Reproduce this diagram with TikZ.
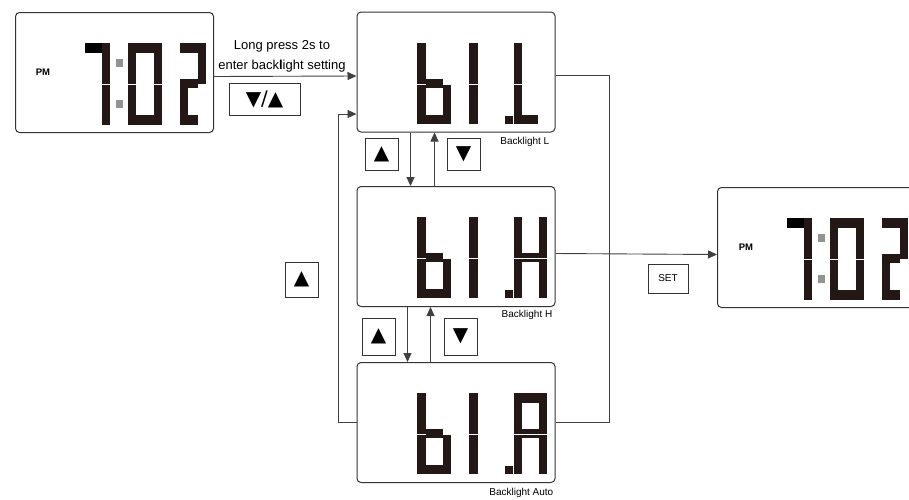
\documentclass[tikz,border=0pt]{standalone}
\usepackage{fontspec}
\setmainfont{Liberation Sans}
\newfontfamily\symfont{DejaVu Sans}
\usetikzlibrary{arrows.meta}

\definecolor{lcdink}{HTML}{231815}
\definecolor{framegray}{HTML}{333333}
\definecolor{linegray}{HTML}{404040}
\definecolor{colongray}{HTML}{939393}

% one lcd segment, corners in px from the panel's top left
\newcommand{\lcdbar}[4]{\fill[lcdink] (#1,#2) rectangle (#3,#4);}

% clock face 7:02
\newcommand{\clockdigits}{%
  \fill[black] (70,31) rectangle (87,41);
  \lcdbar{87}{31}{95}{72}
  \lcdbar{87}{73}{95}{113}
  \fill[colongray] (101,47) rectangle (108,55);
  \fill[colongray] (101,88) rectangle (108,96);
  % 0
  \lcdbar{113}{31}{121}{72}
  \lcdbar{139}{31}{147}{72}
  \lcdbar{121}{31}{139}{41}
  \lcdbar{113}{73}{121}{113}
  \lcdbar{139}{73}{147}{113}
  \lcdbar{121}{103}{139}{113}
  % 2
  \lcdbar{165}{31}{191}{41}
  \lcdbar{183}{41}{191}{72}
  \lcdbar{165}{67}{183}{76}
  \lcdbar{165}{76}{173}{113}
  \lcdbar{173}{103}{183}{113}
}

% "bl." shared by the three backlight panels
\newcommand{\blprefix}{%
  \lcdbar{60}{31}{69}{72}
  \lcdbar{60}{73}{69}{112}
  \lcdbar{69}{67}{86}{76}
  \lcdbar{86}{73}{94}{112}
  \lcdbar{69}{103}{86}{112}
  \lcdbar{112}{31}{121}{72}
  \lcdbar{112}{73}{121}{112}
  \lcdbar{148}{104}{156}{112}
}
\newcommand{\glyphL}{%
  \lcdbar{157}{31}{165}{72}
  \lcdbar{157}{73}{165}{112}
  \lcdbar{165}{103}{181}{112}
}
\newcommand{\glyphH}{%
  \lcdbar{157}{31}{165}{72}
  \lcdbar{157}{73}{165}{112}
  \lcdbar{182}{31}{190}{72}
  \lcdbar{182}{73}{190}{112}
  \lcdbar{165}{67}{182}{72}
  \lcdbar{165}{73}{182}{76}
}
\newcommand{\glyphA}{%
  \glyphH
  \lcdbar{165}{31}{182}{41}
}

\begin{document}
\begin{tikzpicture}[x=1pt,y=-1pt,
  panel/.style={draw=framegray,line width=1pt,rounded corners=4pt,
    minimum width=198pt,minimum height=120pt,inner sep=0pt},
  keybox/.style={draw=framegray,line width=0.8pt,minimum width=33pt,
    minimum height=33pt,inner sep=0pt,font=\symfont\fontsize{20}{20}\selectfont},
  link/.style={draw=linegray,line width=0.9pt},
  tip/.style={-{Triangle[length=9pt,width=8pt]}},
  caption/.style={font=\fontsize{10}{12}\selectfont,anchor=north east,inner sep=0pt},
  ampm/.style={font=\bfseries\fontsize{9.5}{10}\selectfont,inner sep=0pt}
]
\useasboundingbox (0,0) rectangle (909,499);

% Panels
\node[panel] (clockA) at (114.5,72.5) {};
\node[panel] (blL) at (456,72) {};
\node[panel] (blH) at (456,246.5) {};
\node[panel] (blA) at (456,422.5) {};
\node[panel] (clockB) at (816.5,247.5) {};

% Segments
\begin{scope}[shift={(clockA.north west)}] \clockdigits \end{scope}
\begin{scope}[shift={(clockB.north west)}] \clockdigits \end{scope}
\begin{scope}[shift={(blL.north west)}] \blprefix \glyphL \end{scope}
\begin{scope}[shift={(blH.north west)}] \blprefix \glyphH \end{scope}
\begin{scope}[shift={(blA.north west)}] \blprefix \glyphA \end{scope}

\node[ampm] (pmA) at ([xshift=28pt]clockA.west) {PM};
\node[ampm] (pmB) at ([xshift=29pt]clockB.west) {PM};

% Captions
\node[caption] (capL) at ([xshift=-6pt,yshift=-5pt]blL.south east) {Backlight L};
\node[caption] (capH) at ([xshift=-3pt,yshift=-3pt]blH.south east) {Backlight H};
\node[caption] (capA) at ([xshift=-2pt,yshift=-5pt]blA.south east) {Backlight Auto};

% Keys
\node[keybox,minimum width=71pt,minimum height=32pt] (keyUD) at (264.5,99) {▼/▲};
\node[keybox,minimum height=35pt] (keyLoop) at (301.5,279.5) {▲};
\node[keybox,minimum height=32pt] (keyUpA) at (381.5,154) {▲};
\node[keybox,minimum height=32pt] (keyDnA) at (463.5,154) {▼};
\node[keybox,minimum height=37pt] (keyUpB) at (378.5,336.5) {▲};
\node[keybox,minimum height=37pt] (keyDnB) at (460.5,336.5) {▼};
\node[keybox,minimum width=40pt,minimum height=29pt,font=\fontsize{10}{10}\selectfont] (keySet) at (668,278.5) {SET};

\node[align=center,font=\fontsize{13}{20}\selectfont] (hint) at (282,56)
  {Long press 2s to\\enter back\textbf{l}ight setting};

% Connectors
\draw[link,tip] ([yshift=-4pt]clockA.east) -- ([yshift=-4pt]blL.west);
\draw[link,tip] (blA.west) -- ++(-18,0) |- ([yshift=-42pt]blL.west);
\draw[link] ([yshift=-3pt]blL.east) -- ++(54,0) |- (blA.east);
\draw[link,tip] ([yshift=-7pt]blH.east) -- ([yshift=-7pt]clockB.west);

\draw[link,tip] ([xshift=54pt]blL.south west) -- ([xshift=54pt]blH.north west);
\draw[link,tip] ([xshift=78pt]blH.north west) -- ([xshift=78pt]blL.south west);
\draw[link,tip] ([xshift=51pt]blH.south west) -- ([xshift=51pt]blA.north west);
\draw[link,tip] ([xshift=74pt]blA.north west) -- ([xshift=74pt]blH.south west);

\end{tikzpicture}
\end{document}
